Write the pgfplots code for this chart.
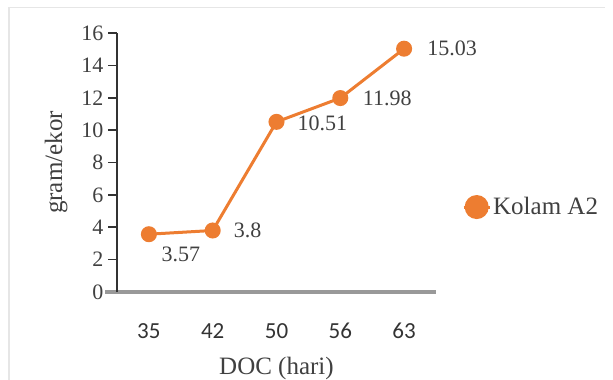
\documentclass[border=0pt]{standalone}
\usepackage{pgfplots}
\pgfplotsset{compat=1.18}
\usepackage{fontspec}
\setmainfont{Liberation Serif}
\newfontfamily\tickfont{Carlito}
\definecolor{seriesorange}{HTML}{ED7D31}
\definecolor{textgrey}{HTML}{404040}
\definecolor{framegrey}{HTML}{E6E6E6}
\begin{document}
\begin{tikzpicture}[x=1pt,y=1pt]
\useasboundingbox (0,0) rectangle (613,380);
% thin outer frame (top and left edges)
\draw[framegrey, line width=1.5pt] (9,0) -- (9,372.5) -- (605,372.5);
\begin{axis}[
  at={(117pt,88pt)}, anchor=south west,
  scale only axis, width=319pt, height=259pt,
  xmin=-0.5, xmax=4.5, ymin=0, ymax=16,
  axis x line=bottom, axis y line=left,
  axis line style={-},
  x axis line style={draw=black!40, line width=4pt, shorten <=-12pt},
  y axis line style={draw=black!80, line width=1.6pt},
  xtick={0,1,2,3,4}, xticklabels={35,42,50,56,63},
  xtick style={draw=none},
  ytick={0,2,...,16},
  ytick style={draw=black!80, line width=1.6pt},
  tick align=outside, major tick length=9pt,
  /pgf/number format/assume math mode=true,
  xticklabel style={font=\tickfont\fontsize{23}{23}\selectfont, text=black!80, anchor=base, yshift=-37pt},
  yticklabel style={font=\fontsize{22}{22}\selectfont, text=textgrey, xshift=-1pt},
  xlabel={DOC (hari)},
  ylabel={gram/ekor},
  xlabel style={font=\fontsize{25}{25}\selectfont, text=textgrey, at={(axis description cs:0.5,-0.3166)}, anchor=base},
  ylabel style={font=\fontsize{25}{25}\selectfont, text=textgrey, at={(axis description cs:-0.1724,0.5)}, anchor=base},
  clip=false,
  legend style={at={(axis description cs:1.0815,0.328)}, anchor=west, draw=none, fill=none,
    inner sep=0pt, font=\fontsize{25}{25}\selectfont, text=textgrey,
    nodes={inner sep=2pt}},
  legend image code/.code={
    \draw[line width=3pt] (2pt,0pt) -- (28pt,0pt);
    \fill (15pt,0pt) circle (10.5pt);
  },
]
\addplot[
  color=seriesorange, line width=3pt,
  mark=*, mark size=6.5pt, mark options={solid, fill=seriesorange},
  visualization depends on={\thisrow{dx} \as \dx},
  visualization depends on={\thisrow{dy} \as \dy},
  nodes near coords,
  point meta=explicit,
  every node near coord/.append style={font=\fontsize{22}{22}\selectfont, text=textgrey,
    anchor=center, xshift=\dx pt, yshift=\dy pt},
] table[x=x, y=y, meta=y] {
x y dx dy
0 3.57 32 -20
1 3.8 35 0
2 10.51 46 -1
3 11.98 47 0
4 15.03 48 0
};
\addlegendentry{Kolam A2}
\end{axis}
\end{tikzpicture}
\end{document}
